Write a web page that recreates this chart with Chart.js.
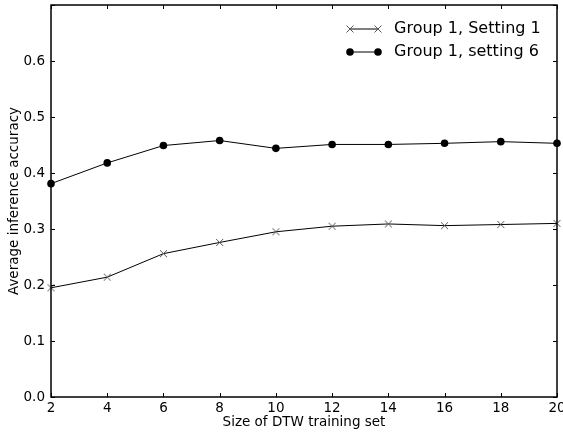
<!DOCTYPE html>
<html>
<head>
<meta charset="utf-8">
<script src="https://cdn.jsdelivr.net/npm/chart.js@4/dist/chart.umd.min.js"></script>
<style>
html,body{margin:0;padding:0;background:#fff;}
canvas{display:block;}
</style>
</head>
<body>
<canvas id="c" width="563" height="432"></canvas>
<script>
const trainingSizes = [2, 4, 6, 8, 10, 12, 14, 16, 18, 20];
const setting1 = [0.195, 0.214, 0.256, 0.276, 0.295, 0.305, 0.309, 0.306, 0.308, 0.310];
const setting6 = [0.381, 0.418, 0.449, 0.458, 0.444, 0.451, 0.451, 0.453, 0.456, 0.453];
const seriesNames = ['Group 1, Setting 1', 'Group 1, setting 6'];
const xTicks = [2, 4, 6, 8, 10, 12, 14, 16, 18, 20];
const yTicks = [0.0, 0.1, 0.2, 0.3, 0.4, 0.5, 0.6, 0.7];
const yTickLabels = ['0.0', '0.1', '0.2', '0.3', '0.4', '0.5', '0.6', ''];

const FONT = 'DejaVu Sans';

const frameTicks = {
  id: 'frameTicks',
  afterDatasetsDraw(chart) {
    const {ctx, chartArea: a, scales: {x, y}} = chart;
    ctx.save();
    ctx.strokeStyle = '#000';
    ctx.lineWidth = 1;
    const L = 4;
    ctx.beginPath();
    xTicks.forEach(v => {
      const px = Math.round(x.getPixelForValue(v)) + 0.5;
      ctx.moveTo(px, a.bottom); ctx.lineTo(px, a.bottom - L);
      ctx.moveTo(px, a.top); ctx.lineTo(px, a.top + L);
    });
    yTicks.forEach(v => {
      const py = Math.round(y.getPixelForValue(v)) + 0.5;
      ctx.moveTo(a.left, py); ctx.lineTo(a.left + L, py);
      ctx.moveTo(a.right, py); ctx.lineTo(a.right - L, py);
    });
    ctx.stroke();
    ctx.lineWidth = 1.5;
    ctx.strokeRect(a.left, a.top, a.right - a.left, a.bottom - a.top);
    ctx.restore();
  }
};

function drawMarker(ctx, style, cx, cy) {
  if (style === 'cross') {
    ctx.strokeStyle = '#555';
    ctx.lineWidth = 1;
    const r = 3.5;
    ctx.beginPath();
    ctx.moveTo(cx - r, cy - r); ctx.lineTo(cx + r, cy + r);
    ctx.moveTo(cx - r, cy + r); ctx.lineTo(cx + r, cy - r);
    ctx.stroke();
  } else {
    ctx.fillStyle = '#000';
    ctx.beginPath();
    ctx.arc(cx, cy, 3.8, 0, Math.PI * 2);
    ctx.fill();
  }
}

const legendPlugin = {
  id: 'mplLegend',
  afterDraw(chart) {
    const {ctx, chartArea: a} = chart;
    ctx.save();
    const rows = [
      {name: seriesNames[0], style: 'cross', y: a.top + 24},
      {name: seriesNames[1], style: 'circle', y: a.top + 47}
    ];
    const x0 = a.right - 207, x1 = a.right - 179, tx = a.right - 163;
    rows.forEach(r => {
      ctx.strokeStyle = '#000';
      ctx.lineWidth = 1;
      ctx.beginPath();
      ctx.moveTo(x0, r.y); ctx.lineTo(x1, r.y);
      ctx.stroke();
      drawMarker(ctx, r.style, x0, r.y);
      drawMarker(ctx, r.style, x1, r.y);
      ctx.fillStyle = '#000';
      ctx.font = '16px "' + FONT + '"';
      ctx.textBaseline = 'middle';
      ctx.textAlign = 'left';
      ctx.fillText(r.name, tx, r.y);
    });
    ctx.restore();
  }
};

function crossCanvas() {
  const c = document.createElement('canvas');
  c.width = 9; c.height = 9;
  const g = c.getContext('2d');
  drawMarker(g, 'cross', 4.5, 4.5);
  return c;
}

new Chart(document.getElementById('c'), {
  type: 'line',
  data: {
    datasets: [
      {
        label: seriesNames[0],
        data: trainingSizes.map((v, i) => ({x: v, y: setting1[i]})),
        borderColor: '#000',
        borderWidth: 1,
        pointStyle: crossCanvas(),
        pointRadius: 4,
        tension: 0,
        fill: false,
        clip: false
      },
      {
        label: seriesNames[1],
        data: trainingSizes.map((v, i) => ({x: v, y: setting6[i]})),
        borderColor: '#000',
        borderWidth: 1,
        pointStyle: 'circle',
        pointRadius: 3.8,
        pointBackgroundColor: '#000',
        pointBorderColor: '#000',
        pointBorderWidth: 0,
        tension: 0,
        fill: false,
        clip: false
      }
    ]
  },
  options: {
    responsive: false,
    animation: false,
    events: [],
    layout: {padding: {top: 5, right: 6, left: 0, bottom: 0}},
    plugins: {legend: {display: false}, tooltip: {enabled: false}},
    scales: {
      x: {
        type: 'linear',
        min: 2, max: 20,
        afterBuildTicks(s) { s.ticks = xTicks.map(v => ({value: v})); },
        afterFit(s) { s.height = 35; s.paddingLeft = 0; s.paddingRight = 0; },
        grid: {display: false, drawTicks: false},
        border: {display: false},
        ticks: {
          color: '#000', padding: 3, maxRotation: 0, autoSkip: false,
          font: {family: FONT, size: 13.5},
          callback: v => String(v)
        },
        title: {
          display: true, text: 'Size of DTW training set', color: '#000',
          font: {family: FONT, size: 13.5}, padding: {top: 0, bottom: 1}
        }
      },
      y: {
        type: 'linear',
        min: 0, max: 0.7,
        afterBuildTicks(s) { s.ticks = yTicks.map(v => ({value: v})); },
        afterFit(s) { s.width = 51; s.paddingTop = 0; s.paddingBottom = 0; },
        grid: {display: false, drawTicks: false},
        border: {display: false},
        ticks: {
          color: '#000', padding: 6, autoSkip: false,
          font: {family: FONT, size: 13.5},
          callback: (v, i) => yTickLabels[i]
        },
        title: {
          display: true, text: 'Average inference accuracy', color: '#000',
          font: {family: FONT, size: 13.5}, padding: {top: 6, bottom: 0}
        }
      }
    }
  },
  plugins: [frameTicks, legendPlugin]
});
</script>
</body>
</html>
